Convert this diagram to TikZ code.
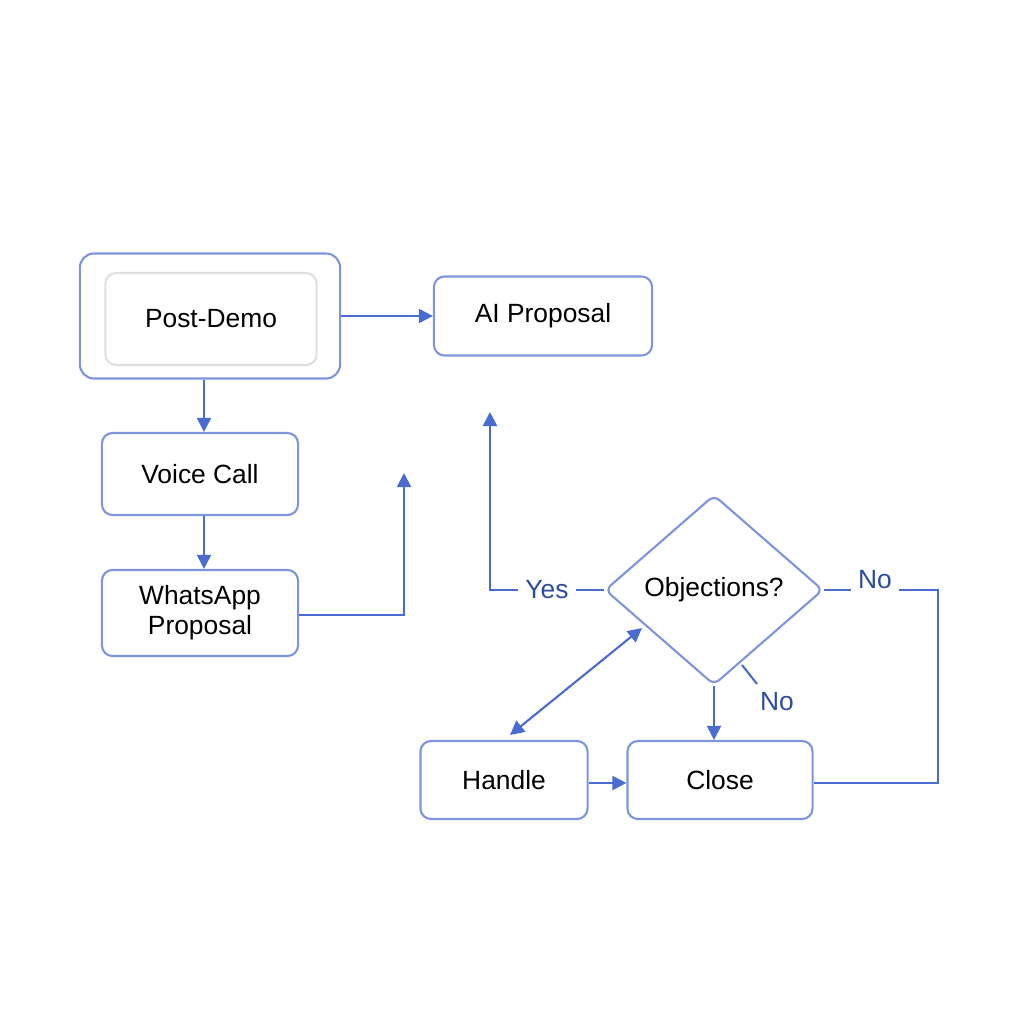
\documentclass[tikz,border=0pt]{standalone}
\usepackage{fontspec}
\setmainfont{Liberation Sans}
\usepackage{tikz}
\usetikzlibrary{shapes.geometric,arrows.meta}
\definecolor{lineblue}{HTML}{4A6BD0}
\definecolor{boxblue}{HTML}{7E95DC}
\definecolor{labelblue}{HTML}{2D4C9E}
\begin{document}
\begin{tikzpicture}[x=0.01cm,y=-0.01cm,
  box/.style={draw=boxblue,semithick,rounded corners=3pt,fill=white,font=\fontsize{7.5}{8.5}\selectfont,align=center},
  flow/.style={draw=lineblue,semithick,-{Triangle[length=4pt,width=4pt]}},
  lbl/.style={text=labelblue,font=\fontsize{7.5}{8.5}\selectfont}]
\useasboundingbox (0,0) rectangle (1024,1024);
% boxes
\node[box,minimum width=2.60cm,minimum height=1.25cm,rounded corners=4pt] (outer) at (210,316) {};
\node[draw=gray!25,semithick,rounded corners=3pt,minimum width=2.11cm,minimum height=0.92cm,font=\fontsize{7.5}{8.5}\selectfont] (demo) at (211,319) {Post-Demo};
\node[box,minimum width=2.18cm,minimum height=0.79cm] (ai) at (543,316) {AI Proposal};
\node[box,minimum width=1.96cm,minimum height=0.82cm] (voice) at (200,474) {Voice Call};
\node[box,minimum width=1.96cm,minimum height=0.86cm] (wa) at (200,613) {WhatsApp\\Proposal};
\node[box,diamond,rounded corners=2pt,minimum width=2.18cm,minimum height=1.90cm,inner sep=0pt,aspect=1.15] (obj) at (714,590) {Objections?};
\node[box,minimum width=1.67cm,minimum height=0.78cm] (handle) at (504,780) {Handle};
\node[box,minimum width=1.85cm,minimum height=0.78cm] (close) at (720,780) {Close};
% coordinates
\coordinate (waup) at (404,473);
\coordinate (yesup) at (490,412);
\coordinate (nocorner) at (938,590);
% connectors
\draw[flow] (outer.east |- ai.west) -- (ai.west);
\draw[flow] (outer.south -| 204,0) -- (voice.north -| 204,0);
\draw[flow] (voice.south -| 204,0) -- (wa.north -| 204,0);
\draw[flow] (wa.east |- 0,615) -| (waup);
\draw[flow] (obj.west) -- (490,590) -- (yesup);
\node[lbl,fill=white,inner sep=2pt] at (547,590) {Yes};
\draw[draw=lineblue,semithick] (obj.east) -- (nocorner) -- (938,783) -- (close.east |- 0,783);
\node[lbl,fill=white,inner sep=2pt] at (875,580) {No};
\draw[draw=lineblue,semithick,{Triangle[length=4pt,width=4pt]}-{Triangle[length=4pt,width=4pt]}] (642,628) -- (510,735);
\draw[flow] (obj.south) -- (close.north -| obj.south);
\draw[draw=lineblue,semithick] (742,665) -- (757,684);
\node[lbl] at (777,702) {No};
\draw[flow] (handle.east |- 0,783) -- (close.west |- 0,783);
\end{tikzpicture}
\end{document}
